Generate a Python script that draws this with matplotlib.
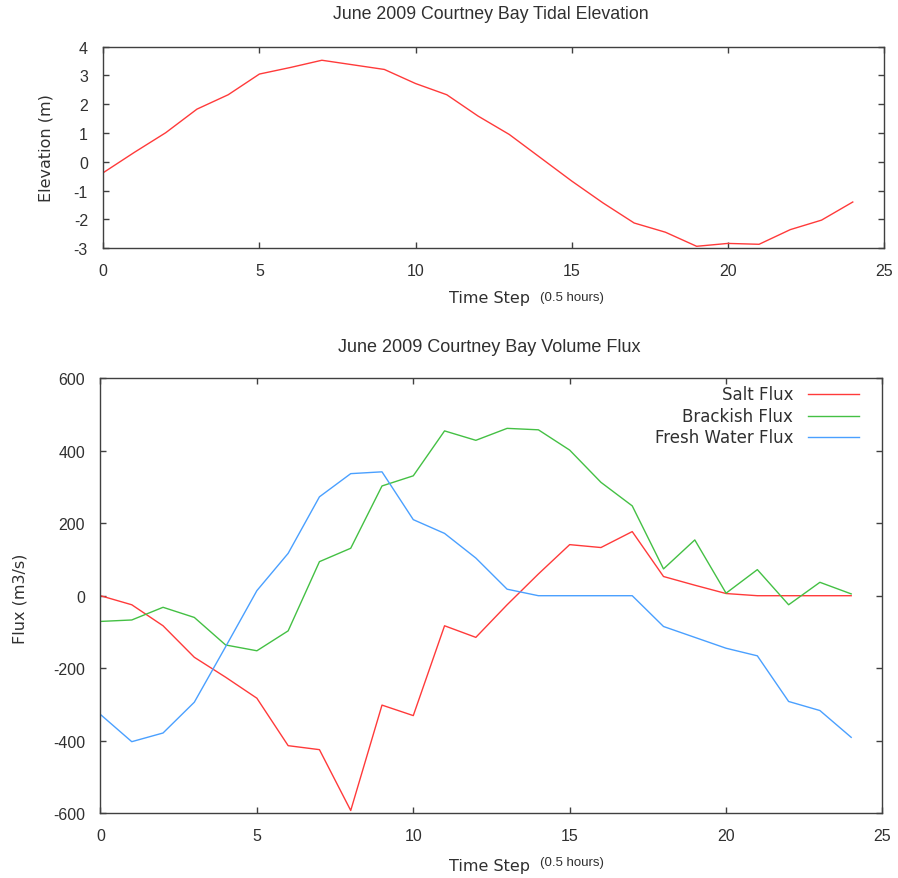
import numpy as np
import matplotlib
matplotlib.use('Agg')
import matplotlib.pyplot as plt

plt.rcParams['font.family'] = ['Liberation Sans', 'DejaVu Sans']
plt.rcParams['axes.unicode_minus'] = False

# data
time_step = list(range(25))
elevation = [-0.38, 0.33, 1.01, 1.83, 2.33, 3.05, 3.28, 3.53, 3.37, 3.21,
             2.72, 2.33, 1.59, 0.95, 0.14, -0.67, -1.43, -2.13, -2.45, -2.94,
             -2.84, -2.87, -2.36, -2.03, -1.40]
salt_flux = [0, -25, -83, -170, -225, -283, -414, -425, -593, -302,
             -331, -83, -115, -25, 60, 141, 133, 177, 53, 29,
             6, 0, 0, 0, 0]
brackish_flux = [-71, -67, -32, -60, -136, -152, -97, 94, 131, 303,
                 331, 455, 429, 462, 458, 402, 313, 248, 74, 154,
                 7, 72, -25, 37, 5]
fresh_flux = [-328, -403, -379, -294, -141, 14, 117, 273, 337, 342,
              210, 172, 104, 18, 0, 0, 0, 0, -85, -115,
              -145, -166, -292, -317, -391]
series_names = ['Salt Flux', 'Brackish Flux', 'Fresh Water Flux']
series_colors = ['#ff3a3a', '#44c044', '#4aa0ff']

axis_col = '#404040'
text_col = '#303030'


def style_axes(ax):
    for sp in ax.spines.values():
        sp.set_color(axis_col)
        sp.set_linewidth(1.0)
    ax.tick_params(direction='in', top=True, right=True, length=4, width=1,
                   color=axis_col, labelcolor=text_col, labelsize=11.5, pad=11)


fig = plt.figure(figsize=(8.98, 8.79), dpi=100)

# top panel: tidal elevation
ax1 = fig.add_axes([0.1150, 0.7167, 0.8694, 0.2290])
ax1.plot(time_step, elevation, color=series_colors[0], lw=1.0)
ax1.set_xlim(0, 25)
ax1.set_ylim(-3, 4)
ax1.set_xticks(np.arange(0, 26, 5))
ax1.set_yticks(np.arange(-3, 5, 1))
style_axes(ax1)
fig.text(0.547, 0.983, 'June 2009 Courtney Bay Tidal Elevation', ha='center', va='center',
         fontsize=12.8, color=text_col)
fig.text(0.051, 0.832, 'Elevation (m)', rotation=90, ha='center', va='center',
         fontsize=11.5, color=text_col, family='DejaVu Sans')
fig.text(0.590, 0.660, 'Time Step', ha='right', va='center', fontsize=11.5,
         color=text_col, family='DejaVu Sans')
fig.text(0.601, 0.661, '(0.5 hours)', ha='left', va='center', fontsize=9.5, color=text_col)

# bottom panel: volume flux
ax2 = fig.add_axes([0.1119, 0.0739, 0.8708, 0.4945])
for vals, name, col in zip([salt_flux, brackish_flux, fresh_flux], series_names, series_colors):
    ax2.plot(time_step, vals, color=col, lw=1.0, label=name)
ax2.set_xlim(0, 25)
ax2.set_ylim(-600, 600)
ax2.set_xticks(np.arange(0, 26, 5))
ax2.set_yticks(np.arange(-600, 601, 200))
style_axes(ax2)
fig.text(0.545, 0.605, 'June 2009 Courtney Bay Volume Flux', ha='center', va='center',
         fontsize=13, color=text_col)
fig.text(0.022, 0.319, 'Flux (m3/s)', rotation=90, ha='center', va='center',
         fontsize=11.5, color=text_col, family='DejaVu Sans')
fig.text(0.590, 0.014, 'Time Step', ha='right', va='center', fontsize=11.5,
         color=text_col, family='DejaVu Sans')
fig.text(0.601, 0.018, '(0.5 hours)', ha='left', va='center', fontsize=9.5, color=text_col)

# gnuplot-style key: right aligned text, sample line to the right
for i, (name, col) in enumerate(zip(series_names, series_colors)):
    yk = 0.964 - i * 0.0497
    ax2.text(0.8856, yk, name, transform=ax2.transAxes, ha='right', va='center',
             fontsize=12, color=text_col, family='DejaVu Sans')
    ax2.plot([0.905, 0.970], [yk, yk], transform=ax2.transAxes, color=col, lw=1.0)

fig.savefig('out.png', dpi=100)
